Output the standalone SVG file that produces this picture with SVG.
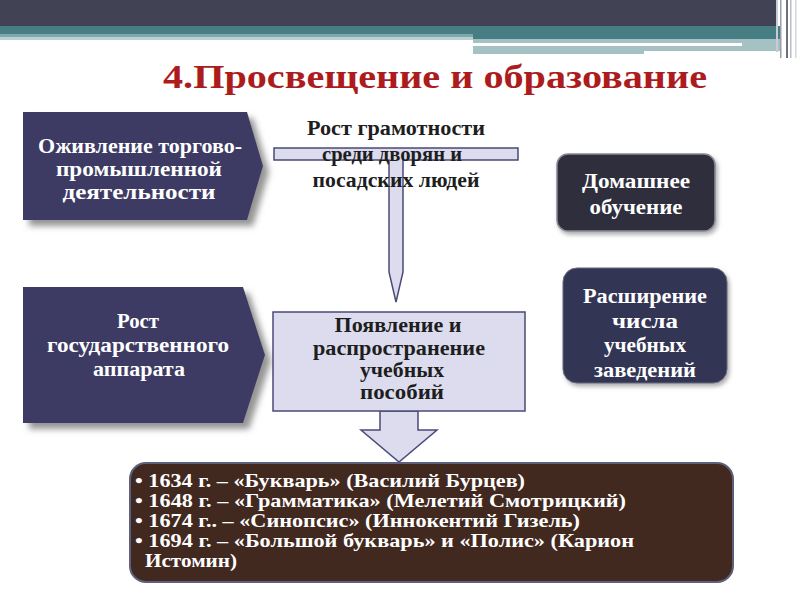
<svg xmlns="http://www.w3.org/2000/svg" width="800" height="600" viewBox="0 0 800 600">
<defs>
<style>
.t{font-family:"Liberation Serif","DejaVu Serif","Times New Roman",serif;font-weight:bold;font-size:20px;text-anchor:middle}
.w{fill:#ffffff}
.d{fill:#1e1e1e}
.l{font-family:"Liberation Serif","DejaVu Serif","Times New Roman",serif;font-weight:bold;font-size:19px;fill:#ffffff}
.lav{fill:#dcdcee;stroke:#4a4a78;stroke-width:1.5}
</style>
<filter id="sh" x="-20%" y="-20%" width="150%" height="150%">
<feDropShadow dx="6" dy="6" stdDeviation="3" flood-color="#7a7a7a" flood-opacity="0.8"/>
</filter>
<filter id="sh2" x="-20%" y="-20%" width="150%" height="150%">
<feDropShadow dx="2" dy="3" stdDeviation="2" flood-color="#777" flood-opacity="0.6"/>
</filter>
</defs>
<rect width="800" height="600" fill="#ffffff"/>
<g id="header">
<rect x="0" y="0" width="776" height="26" fill="#414254"/>
<rect x="0" y="26" width="780" height="8" fill="#477e83"/>
<rect x="473" y="34" width="307" height="5" fill="#477e83"/>
<rect x="0" y="34" width="473" height="3" fill="#7ea8ab"/>
<rect x="0" y="37" width="473" height="3" fill="#bad1d3"/>
<rect x="473" y="39" width="171" height="15" fill="#a4c2c4"/>
<rect x="644" y="39" width="136" height="12" fill="#a4c2c4"/>
<rect x="473" y="43" width="269" height="3" fill="#ffffff"/>
<rect x="776" y="0" width="2" height="52" fill="#c9ccd2"/>
<rect x="780" y="0" width="1.5" height="58" fill="#9a9eac"/>
<rect x="786" y="0" width="2" height="58" fill="#6d7080"/>
<rect x="790" y="0" width="1.5" height="58" fill="#b9bdc6"/>
<rect x="795" y="0" width="1.5" height="58" fill="#d3d6dc"/>
</g>
<g id="title">
<text x="163" y="88" font-family="Liberation Serif, DejaVu Serif, Times New Roman, serif" font-weight="bold" font-size="34" fill="#ad1c1c" textLength="544" lengthAdjust="spacingAndGlyphs">4.Просвещение и образование</text>
</g>
<g id="connectors">
<path class="lav" d="M274,148 H518 V160 H403 V272 L396,302 L389,272 V160 H274 Z"/>
<path class="lav" d="M380,411 H418 V430 H437 L399,462 L361,430 H380 Z"/>
</g>
<g id="n1">
<path d="M23,112 H247 L263,166 L247,220 H23 Z" fill="#3c3b63" filter="url(#sh)"/>
<text class="t w" x="140" y="153" textLength="204" lengthAdjust="spacingAndGlyphs">Оживление торгово-</text>
<text class="t w" x="139" y="176" textLength="166" lengthAdjust="spacingAndGlyphs">промышленной</text>
<text class="t w" x="139" y="199" textLength="153" lengthAdjust="spacingAndGlyphs">деятельности</text>
</g>
<g id="n2">
<path d="M23,287 H243 L265,355 L243,423 H23 Z" fill="#3c3b63" filter="url(#sh)"/>
<text class="t w" x="138" y="328" textLength="42" lengthAdjust="spacingAndGlyphs">Рост</text>
<text class="t w" x="138" y="352" textLength="182" lengthAdjust="spacingAndGlyphs">государственного</text>
<text class="t w" x="139" y="376" textLength="92" lengthAdjust="spacingAndGlyphs">аппарата</text>
</g>
<g id="n3">
<text class="t d" x="396" y="135" textLength="178" lengthAdjust="spacingAndGlyphs">Рост грамотности</text>
<text class="t d" x="392" y="161" textLength="140" lengthAdjust="spacingAndGlyphs">среди дворян и</text>
<text class="t d" x="396" y="187" textLength="167" lengthAdjust="spacingAndGlyphs">посадских людей</text>
</g>
<g id="n4">
<rect x="273" y="312" width="252" height="99" class="lav"/>
<text class="t d" x="398" y="332" textLength="127" lengthAdjust="spacingAndGlyphs">Появление и</text>
<text class="t d" x="399" y="355" textLength="172" lengthAdjust="spacingAndGlyphs">распространение</text>
<text class="t d" x="402" y="377" textLength="84" lengthAdjust="spacingAndGlyphs">учебных</text>
<text class="t d" x="402" y="399" textLength="84" lengthAdjust="spacingAndGlyphs">пособий</text>
</g>
<g id="n5">
<rect x="557" y="154" width="158" height="77" rx="11" fill="#2d2d3c" stroke="#8a8a95" stroke-width="1.5" filter="url(#sh2)"/>
<text class="t w" x="636" y="188" textLength="108" lengthAdjust="spacingAndGlyphs">Домашнее</text>
<text class="t w" x="636" y="214" textLength="93" lengthAdjust="spacingAndGlyphs">обучение</text>
</g>
<g id="n6">
<rect x="563" y="268" width="164" height="115" rx="14" fill="#333552" stroke="#6a6c80" stroke-width="1" filter="url(#sh2)"/>
<text class="t w" x="645" y="303" textLength="124" lengthAdjust="spacingAndGlyphs">Расширение</text>
<text class="t w" x="645" y="328" textLength="66" lengthAdjust="spacingAndGlyphs">числа</text>
<text class="t w" x="645" y="352" textLength="82" lengthAdjust="spacingAndGlyphs">учебных</text>
<text class="t w" x="645" y="377" textLength="102" lengthAdjust="spacingAndGlyphs">заведений</text>
</g>
<g id="n7">
<rect x="130" y="463" width="603" height="119" rx="16" fill="#42291f" stroke="#5c607c" stroke-width="2"/>
<text class="l" x="135" y="487" textLength="390" lengthAdjust="spacingAndGlyphs">• 1634 г. – «Букварь» (Василий Бурцев)</text>
<text class="l" x="135" y="507" textLength="491" lengthAdjust="spacingAndGlyphs">• 1648 г. – «Грамматика» (Мелетий Смотрицкий)</text>
<text class="l" x="135" y="527" textLength="445" lengthAdjust="spacingAndGlyphs">• 1674 г.. – «Синопсис» (Иннокентий Гизель)</text>
<text class="l" x="135" y="547" textLength="499" lengthAdjust="spacingAndGlyphs">• 1694 г. – «Большой букварь» и «Полис» (Карион</text>
<text class="l" x="145" y="567" textLength="92" lengthAdjust="spacingAndGlyphs">Истомин)</text>
</g>
</svg>
